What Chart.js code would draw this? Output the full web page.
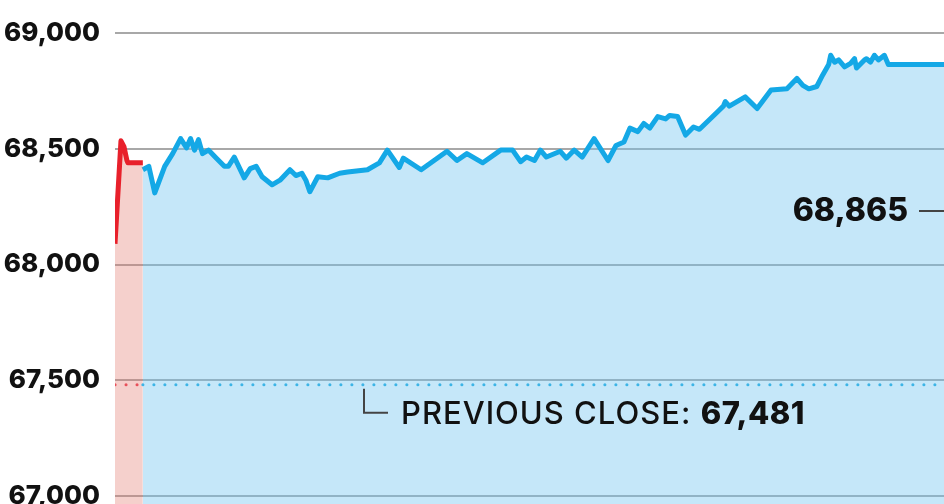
<!DOCTYPE html>
<html>
<head>
<meta charset="utf-8">
<script src="https://cdn.jsdelivr.net/npm/chart.js@4"></script>
<style>
  body { margin: 0; background: #fff; }
  #wrap { width: 944px; height: 504px; }
</style>
</head>
<body>
<div id="wrap"><canvas id="index"></canvas></div>
<script>
// minutes after 9:00
preOpenMinutes = [0, 3, 4.5, 6, 6.5, 14];
preOpenValues = [68090, 68535, 68510, 68450, 68440, 68440];

sessionMinutes = [14, 17, 20, 25, 29, 33, 36, 38, 40, 42,
    44, 47, 51, 55, 57, 60, 65, 68, 71, 74,
    79, 83, 88, 91, 94, 96, 98, 102, 107, 113,
    117, 127, 133, 137, 143, 145, 154, 167, 172, 177,
    185, 194, 200, 204, 207, 211, 214, 217, 224, 227,
    231, 235, 241, 248, 252, 256, 259, 263, 266, 269,
    273, 277, 279, 283, 287, 291, 294, 303, 306, 307,
    309, 317, 323, 330, 338, 343, 346, 349, 353, 356,
    359, 360, 362, 364, 367, 370, 372, 373, 377, 378,
    380, 382, 384, 387, 389, 417];
sessionValues = [68410, 68425, 68310, 68425, 68480, 68545, 68505, 68545, 68495, 68540,
    68480, 68495, 68460, 68425, 68425, 68465, 68375, 68415, 68425, 68380,
    68345, 68365, 68410, 68385, 68395, 68365, 68315, 68380, 68375, 68395,
    68400, 68410, 68440, 68495, 68420, 68460, 68410, 68490, 68450, 68480,
    68440, 68495, 68495, 68445, 68465, 68450, 68495, 68465, 68490, 68460,
    68495, 68465, 68545, 68450, 68515, 68530, 68590, 68575, 68610, 68590,
    68640, 68630, 68645, 68640, 68560, 68595, 68585, 68660, 68685, 68705,
    68685, 68725, 68675, 68755, 68760, 68805, 68775, 68760, 68770, 68820,
    68865, 68905, 68875, 68885, 68855, 68870, 68890, 68850, 68885, 68890,
    68875, 68905, 68885, 68905, 68865, 68865];

prevClose = 67481;
lastValue = 68865;
yTicks = [67000, 67500, 68000, 68500, 69000];

FONT = "Inter, 'Liberation Sans', sans-serif";

function toPoints(xs, ys) {
    return xs.map((x, i) => ({ x: x, y: ys[i] }));
}

// text callouts drawn on top of the chart
calloutPlugin = {
    id: 'callouts',
    afterDraw(chart) {
        const ctx = chart.ctx;
        const area = chart.chartArea;
        const yScale = chart.scales.y;
        ctx.save();

        // last value label with a pointer dash
        ctx.fillStyle = '#111';
        ctx.font = "800 32px " + FONT;
        ctx.textAlign = 'right';
        ctx.textBaseline = 'middle';
        ctx.fillText(lastValue.toLocaleString('en-US'), area.right - 36, 211);
        ctx.strokeStyle = '#444';
        ctx.lineWidth = 2;
        ctx.beginPath();
        ctx.moveTo(area.right - 25, 211);
        ctx.lineTo(area.right, 211);
        ctx.stroke();

        // previous close label
        const py = yScale.getPixelForValue(prevClose);
        ctx.beginPath();
        ctx.moveTo(364, py + 4);
        ctx.lineTo(364, py + 28);
        ctx.lineTo(388, py + 28);
        ctx.stroke();

        ctx.textAlign = 'left';
        ctx.letterSpacing = '1px';
        ctx.font = "500 31px " + FONT;
        const lead = 'PREVIOUS CLOSE: ';
        ctx.fillText(lead, 401, py + 30);
        const w = ctx.measureText(lead).width;
        ctx.letterSpacing = '0.5px';
        ctx.font = "800 31px " + FONT;
        ctx.fillText(prevClose.toLocaleString('en-US'), 401 + w, py + 30);

        ctx.restore();
    }
};

ctx = document.getElementById('index');

chart = new Chart(ctx, {
    type: 'line',
    data: {
        datasets: [
            {
                label: 'Previous close (pre-open)',
                data: toPoints([0, 14], [prevClose, prevClose]),
                borderColor: '#e8505a',
                borderWidth: 3,
                borderDash: [0.1, 10.9],
                borderCapStyle: 'round',
                pointRadius: 0,
                fill: false
            },
            {
                label: 'Previous close',
                data: toPoints([14, 417], [prevClose, prevClose]),
                borderColor: '#3cb4e6',
                borderWidth: 3,
                borderDash: [0.1, 10.9],
                borderCapStyle: 'round',
                pointRadius: 0,
                fill: false
            },
            {
                label: 'Pre-open',
                data: toPoints(preOpenMinutes, preOpenValues),
                borderColor: '#e8202b',
                backgroundColor: 'rgba(225, 120, 110, 0.35)',
                borderWidth: 5,
                borderJoinStyle: 'round',
                pointRadius: 0,
                tension: 0,
                fill: 'start'
            },
            {
                label: 'Index',
                data: toPoints(sessionMinutes, sessionValues),
                borderColor: '#14a8e6',
                backgroundColor: 'rgba(110, 195, 240, 0.4)',
                borderWidth: 5,
                borderJoinStyle: 'round',
                pointRadius: 0,
                tension: 0,
                fill: 'start'
            }
        ]
    },
    options: {
        responsive: true,
        maintainAspectRatio: false,
        animation: false,
        layout: {
            padding: 0
        },
        scales: {
            x: {
                type: 'linear',
                min: 0,
                max: 417,
                display: false
            },
            y: {
                min: 66965,
                max: 69144,
                position: 'left',
                border: { display: false },
                grid: {
                    color: '#a8a8a8',
                    lineWidth: 2,
                    drawTicks: false
                },
                ticks: {
                    autoSkip: false,
                    padding: 15,
                    color: '#111',
                    font: { family: FONT, size: 26, weight: '800' },
                    callback: (v) => Number(v).toLocaleString('en-US')
                },
                afterBuildTicks: (axis) => {
                    axis.ticks = yTicks.map(v => ({ value: v }));
                },
                afterFit: (axis) => {
                    axis.width = 115;
                    axis.paddingTop = 0;
                    axis.paddingBottom = 0;
                }
            }
        },
        plugins: {
            legend: { display: false },
            tooltip: { enabled: false }
        }
    },
    plugins: [calloutPlugin]
});
</script>
</body>
</html>
